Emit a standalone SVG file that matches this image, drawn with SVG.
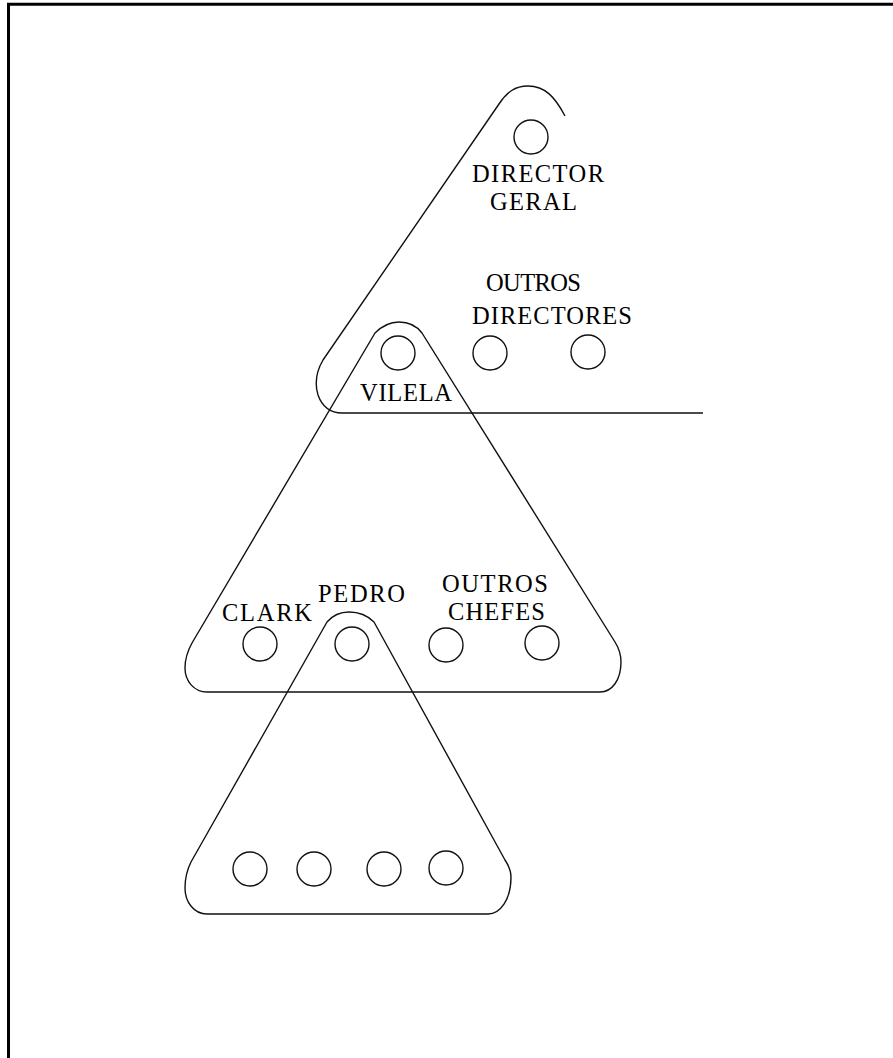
<svg xmlns="http://www.w3.org/2000/svg" width="893" height="1058" viewBox="0 0 893 1058">
  <style>
    .frame { fill: none; stroke: #000; stroke-width: 3; }
    .level { fill: none; stroke: #111; stroke-width: 1.4; stroke-linejoin: round; }
    .seat { fill: none; stroke: #111; stroke-width: 1.4; }
    .label { font-family: "Liberation Serif", "Times New Roman", serif; font-size: 24.5px; fill: #000; }
  </style>
  <rect width="893" height="1058" fill="#fff"/>
  <!-- page frame: left and top edges -->
  <path class="frame" d="M 8.5 1058 L 8.5 4.3 L 893 4.3"/>

  <!-- hierarchy levels (rounded triangles) -->
  <g id="levels">
    <path id="level-directors" class="level" d="M 565 116 C 555 97 545 86 528 86 C 515 86 507 92 499 104 L 323 360 C 316 372 315 385 318 395 C 322 406 330 413 342 413 L 703 413"/>
    <path id="level-chiefs" class="level" d="M 375 333 C 383 325 390 322 399 322 C 408 322 416 325 422 333 L 615 642 C 620 650 621 655 621 662 C 621 680 612 692 600 692 L 207 692 C 194 692 185 681 185 668 C 185 660 187 652 192 643 Z"/>
    <path id="level-staff" class="level" d="M 327 622 C 333 615 340 612 349 612 C 358 612 367 615 374 622 L 505 860 C 509 866 511 870 511 877 C 511 900 500 914 488 914 L 207 914 C 194 914 185 902 185 888 C 185 878 187 870 191 862 Z"/>
  </g>

  <!-- top level -->
  <g id="director-geral">
    <circle class="seat" cx="531" cy="137" r="17"/>
    <text class="label"><tspan x="472" y="181.5" textLength="132">DIRECTOR</tspan><tspan x="490" y="209.5" textLength="87">GERAL</tspan></text>
  </g>
  <g id="vilela">
    <circle class="seat" cx="398" cy="353" r="17"/>
    <text class="label" x="360" y="400.5" textLength="92">VILELA</text>
  </g>
  <g id="outros-directores">
    <text class="label"><tspan x="486" y="291" textLength="95">OUTROS</tspan><tspan x="472" y="323.5" textLength="160">DIRECTORES</tspan></text>
    <circle class="seat" cx="490" cy="353" r="17"/>
    <circle class="seat" cx="588" cy="352" r="17"/>
  </g>

  <!-- middle level -->
  <g id="clark">
    <circle class="seat" cx="260" cy="644" r="17"/>
    <text class="label" x="222" y="620.5" textLength="90">CLARK</text>
  </g>
  <g id="pedro">
    <circle class="seat" cx="352" cy="644" r="17"/>
    <text class="label" x="318" y="601.5" textLength="87">PEDRO</text>
  </g>
  <g id="outros-chefes">
    <text class="label"><tspan x="442" y="592" textLength="106">OUTROS</tspan><tspan x="448" y="620" textLength="97">CHEFES</tspan></text>
    <circle class="seat" cx="446" cy="645" r="17"/>
    <circle class="seat" cx="542" cy="643" r="17"/>
  </g>

  <!-- bottom level -->
  <g id="staff">
    <circle class="seat" cx="250" cy="869" r="17"/>
    <circle class="seat" cx="314" cy="869" r="17"/>
    <circle class="seat" cx="384" cy="869" r="17"/>
    <circle class="seat" cx="446" cy="868" r="17"/>
  </g>

  <!-- no connectors between levels -->
  <g id="connectors"/>
</svg>
